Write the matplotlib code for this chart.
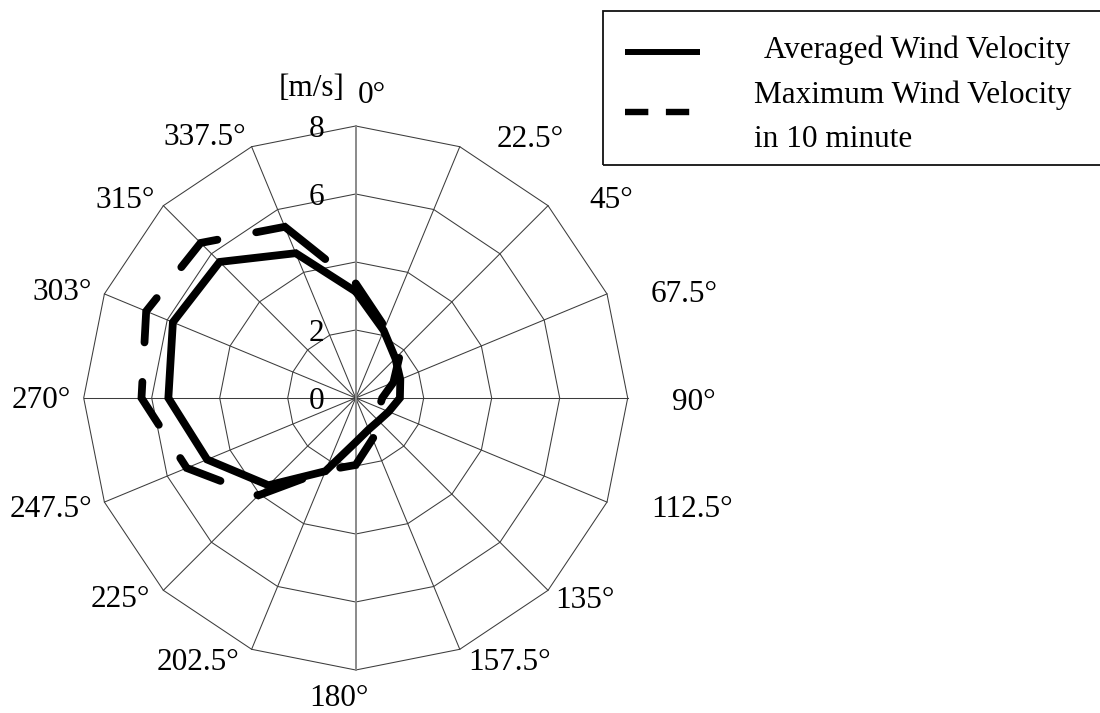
import numpy as np
import matplotlib
matplotlib.use("Agg")
import matplotlib.pyplot as plt
from matplotlib.patches import Rectangle
from matplotlib.lines import Line2D

plt.rcParams['font.family'] = ['Liberation Serif', 'DejaVu Serif']

# ---- data -------------------------------------------------------------
directions = [0, 22.5, 45, 67.5, 90, 112.5, 135, 157.5,
              180, 202.5, 225, 247.5, 270, 292.5, 315, 337.5]
direction_labels = ["0°", "22.5°", "45°", "67.5°", "90°", "112.5°", "135°", "157.5°",
                    "180°", "202.5°", "225°", "247.5°", "270°", "303°", "315°", "337.5°"]
avg_speed = [3.13, 2.15, 1.65, 1.42, 1.30, 1.05, 0.95, 1.00,
             1.30, 2.33, 3.63, 4.73, 5.51, 5.82, 5.66, 4.61]
max_speed = [3.37, 2.25, 1.85, 1.20, 0.78, 0.75, 1.10, 1.30,
             1.97, 2.30, 4.05, 5.38, 6.30, 6.67, 6.45, 5.45]
ring_values = [2, 4, 6, 8]
ring_labels = ["0", "2", "6", "8"]
ring_label_values = [0, 2, 6, 8]
unit_label = "[m/s]"
legend_labels = ["Averaged Wind Velocity", "Maximum Wind Velocity\nin 10 minute"]

# ---- figure / axes ----------------------------------------------------
W, H = 1100, 713
DPI = 100
fig = plt.figure(figsize=(W / DPI, H / DPI), dpi=DPI)
ax = fig.add_axes([0, 0, 1, 1])
ax.set_axis_off()

cx_px, cy_px, px_per_unit = 355.7, 398.0, 34.0
xmin = -cx_px / px_per_unit
ymin = -(H - cy_px) / px_per_unit
ax.set_xlim(xmin, xmin + W / px_per_unit)
ax.set_ylim(ymin, ymin + H / px_per_unit)

theta = np.deg2rad(np.asarray(directions))
sin_t, cos_t = np.sin(theta), np.cos(theta)


def closed_xy(values):
    r = np.asarray(values, dtype=float)
    x = r * sin_t
    y = r * cos_t
    return np.append(x, x[0]), np.append(y, y[0])


# polygon rings
for rv in ring_values:
    gx, gy = closed_xy([rv] * len(directions))
    ax.plot(gx, gy, color="#3c3c3c", lw=0.75, zorder=1)

# spokes
rmax = max(ring_values)
for s, c, d in zip(sin_t, cos_t, directions):
    if d in (0, 180):
        continue
    ax.plot([0, rmax * s], [0, rmax * c], color="#3c3c3c", lw=0.75, zorder=1)
# value axis (north-south)
ax.plot([0, 0], [-rmax, rmax], color="#8a8a8a", lw=1.4, zorder=1)

# series
lw_series = 5.6
sx, sy = closed_xy(avg_speed)
ax.plot(sx, sy, color="black", lw=lw_series, solid_joinstyle="miter",
        solid_capstyle="round", zorder=3)
# long-dash pattern (in line-width units); the final dash of the loop is longer
dash_seq = tuple([6.18, 5.08] * 8 + [10.4, 5.1])
mx, my = closed_xy(max_speed)
ax.plot(mx, my, color="black", lw=lw_series, linestyle=(0, dash_seq),
        dash_capstyle="round", dash_joinstyle="miter", zorder=3)


# ---- text ------------------------------------------------------------
def fx(px):
    return px / W


def fy(py):
    return 1 - py / H


FS = 22.5
label_pos = [(371.7, 103.3), (530.0, 146.7), (610.8, 208.3), (684.2, 301.7),
             (694.2, 410.0), (691.7, 516.7), (585.0, 608.3), (509.2, 670.0),
             (339.2, None), (197.5, 670.0), (120.0, 606.7), (50.8, 516.7),
             (41.7, 408.3), (62.5, 300.0), (125.0, 208.3), (205.0, 145.0)]
for lab, (px, py) in zip(direction_labels, label_pos):
    if py is None:
        # bottom label sits on the lower edge of the figure
        fig.text(fx(px), 0.0, lab, fontsize=FS, ha="center", va="bottom")
    else:
        fig.text(fx(px), fy(py), lab, fontsize=FS, ha="center", va="baseline")

for lab, v in zip(ring_labels, ring_label_values):
    py = cy_px - v * px_per_unit + 11
    fig.text(fx(324), fy(py), lab, fontsize=FS, ha="right", va="baseline", zorder=2)

fig.text(fx(311.7), fy(96), unit_label, fontsize=FS, ha="center", va="baseline")

# ---- legend ----------------------------------------------------------
box = Rectangle((fx(603.3), fy(165)), fx(1115 - 603.3), 154.3 / H,
                transform=fig.transFigure, fill=False, ec="#111111", lw=1.3,
                clip_on=False)
fig.add_artist(box)
fig.add_artist(Line2D([fx(625), fx(700)], [fy(51.7), fy(51.7)], transform=fig.transFigure,
                      color="black", lw=4.3, solid_capstyle="butt"))
fig.add_artist(Line2D([fx(625), fx(690)], [fy(111.7), fy(111.7)], transform=fig.transFigure,
                      color="black", lw=4.6, linestyle=(0, (3.65, 2.75)),
                      dash_capstyle="butt"))
fig.text(fx(916.7), fy(58.3), legend_labels[0], fontsize=FS, ha="center", va="baseline")
line1, line2 = legend_labels[1].split("\n")
fig.text(fx(754), fy(102.7), line1, fontsize=FS, ha="left", va="baseline")
fig.text(fx(754), fy(146.7), line2, fontsize=FS, ha="left", va="baseline")

fig.savefig("out.png", dpi=DPI)
